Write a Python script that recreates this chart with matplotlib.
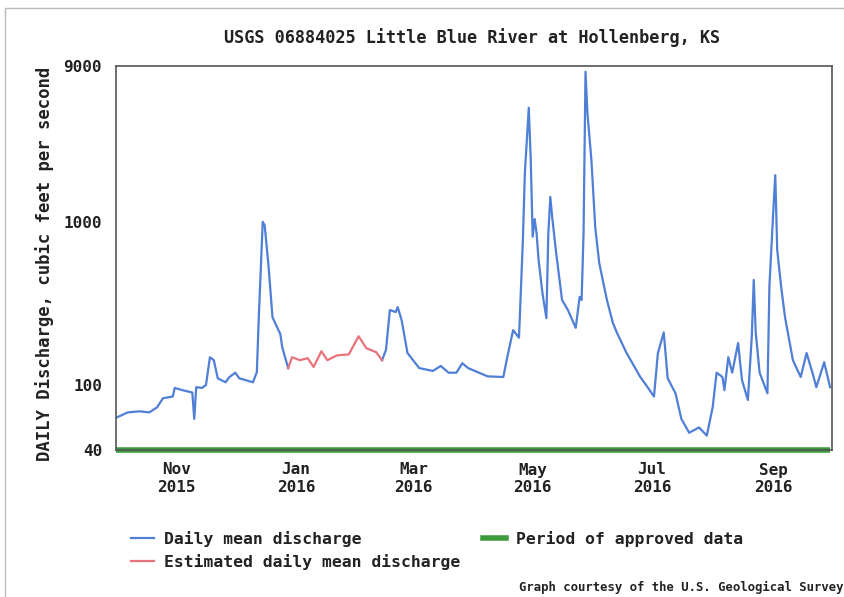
import numpy as np
import pandas as pd
import matplotlib
matplotlib.use("Agg")
import matplotlib.pyplot as plt
import matplotlib.dates as mdates
from matplotlib.lines import Line2D
from matplotlib.patches import Rectangle

# days since 2015-10-01 and daily mean discharge (cfs)
days = [0, 6, 12, 17, 21, 24, 29, 30, 34, 39, 40, 41, 44, 46, 48, 50, 52, 56, 58, 61,
        63, 70, 72, 73, 75, 76, 78, 80, 84, 85, 88,
        90, 94, 98, 101, 105, 108, 113, 119, 124, 128, 133, 136,
        138, 140, 143, 144, 146, 149, 155, 162, 166, 170, 174, 177, 180, 190, 198, 200,
        203, 206, 208, 209, 211, 212, 213, 214, 215, 216, 218, 220, 221, 222, 223, 225,
        228, 231, 235, 237, 238, 239, 240, 241, 243, 245, 247, 251, 254, 256, 261, 268,
        272, 275, 277, 280, 282, 286, 289, 293, 298, 302, 305, 307, 310, 311, 313, 315,
        318, 320, 323, 325, 326, 327, 329, 333, 334, 336, 337, 338, 340, 342, 346, 350,
        353, 356, 358, 362, 365]
discharge = [63, 68, 69, 68, 73, 83, 85, 96, 93, 90, 62, 97, 96, 100, 148, 142, 110, 104, 112, 119,
             110, 104, 120, 260, 1000, 950, 530, 260, 205, 170, 127,
             148, 142, 146, 129, 161, 142, 152, 154, 199, 168, 159, 142,
             164, 288, 280, 300, 250, 157, 127, 122, 131, 119, 119, 136, 127, 113, 112, 148,
             217, 195, 780, 1990, 5000, 2400, 810, 1040, 850, 585, 365, 257, 850, 1420, 1060, 645,
             332, 288, 224, 347, 332, 850, 8300, 4600, 2400, 920, 560, 330, 240, 210, 157, 112,
             96, 85, 157, 210, 110, 89, 62, 51, 55, 49, 73, 119, 112, 93, 148, 119,
             181, 107, 81, 199, 440, 210, 119, 89, 400, 1170, 1930, 671, 400, 260, 142, 112,
             157, 119, 97, 138, 97]

# estimated record (days since 2015-10-01)
est_start, est_end = 88, 136
approved = ["2015-10-01", "2016-09-30"]

start = pd.Timestamp("2015-10-01")
dates = start + pd.to_timedelta(days, unit="D")
q = np.array(discharge, dtype=float)
d = np.array(days)

blue = np.where((d <= est_start) | (d >= est_end), q, np.nan)
red = np.where((d >= est_start) & (d <= est_end), q, np.nan)

mono = "DejaVu Sans Mono"
blue_c = "#4f7fd6"
red_c = "#e8737a"
green_c = "#3d9b3d"

fig = plt.figure(figsize=(8.45, 5.97), dpi=100)
ax = fig.add_axes([116 / 845, 1 - 450 / 597, 716 / 845, 384 / 597])

ax.plot(dates, blue, color=blue_c, lw=1.6)
ax.plot(dates, red, color=red_c, lw=1.6)
ax.plot(pd.to_datetime(approved), [40, 40], color=green_c, lw=4, solid_capstyle="butt",
        clip_on=False)

ax.set_yscale("log")
ax.set_ylim(40, 9000)
ax.set_xlim(pd.Timestamp("2015-10-01"), pd.Timestamp("2016-10-01"))
ax.set_yticks([40, 100, 1000, 9000])
ax.set_yticklabels(["40", "100", "1000", "9000"])
ax.yaxis.set_minor_locator(matplotlib.ticker.NullLocator())
ax.xaxis.set_major_locator(mdates.MonthLocator(bymonth=[11, 1, 3, 5, 7, 9]))
ax.xaxis.set_major_formatter(mdates.DateFormatter("%b\n%Y"))
ax.tick_params(axis="both", length=0, labelsize=11.5)
ax.tick_params(axis="x", pad=9)
ax.tick_params(axis="y", pad=10)
for lab in ax.get_xticklabels() + ax.get_yticklabels():
    lab.set_fontfamily(mono)
    lab.set_fontweight("bold")
    lab.set_color("#222222")
for s in ax.spines.values():
    s.set_color("#555555")
    s.set_linewidth(1.2)

fig.text(472 / 845, 1 - 38 / 597, "USGS 06884025 Little Blue River at Hollenberg, KS",
         ha="center", va="center", family=mono, weight="bold", size=12.2, color="#222222")
fig.text(45 / 845, 1 - 264 / 597, "DAILY Discharge, cubic feet per second", rotation=90,
         ha="center", va="center", family=mono, weight="bold", size=12.4, color="#222222")
fig.text(844 / 845, 1 - 587 / 597, "Graph courtesy of the U.S. Geological Survey",
         ha="right", va="center", family=mono, weight="bold", size=8.8, color="#222222")

handles = [Line2D([], [], color=blue_c, lw=1.6),
           Line2D([], [], color=red_c, lw=1.6),
           Line2D([], [], color=green_c, lw=4)]
labels = ["Daily mean discharge", "Estimated daily mean discharge", "Period of approved data"]
leg = fig.legend(handles, labels, ncol=2, loc="upper left",
                 bbox_to_anchor=(116 / 845, 1 - 516 / 597), frameon=False,
                 prop={"family": mono, "weight": "bold", "size": 11.8},
                 handlelength=1.4, handletextpad=0.6, columnspacing=1.4, labelspacing=0.45)
for t in leg.get_texts():
    t.set_color("#222222")

# scanned page border
fig.patches.append(Rectangle((5 / 845, -0.05), 1.1, 1 - 8 / 597 + 0.05, transform=fig.transFigure,
                             fill=False, edgecolor="#bbbbbb", lw=1))

fig.savefig("out.png", dpi=100)
